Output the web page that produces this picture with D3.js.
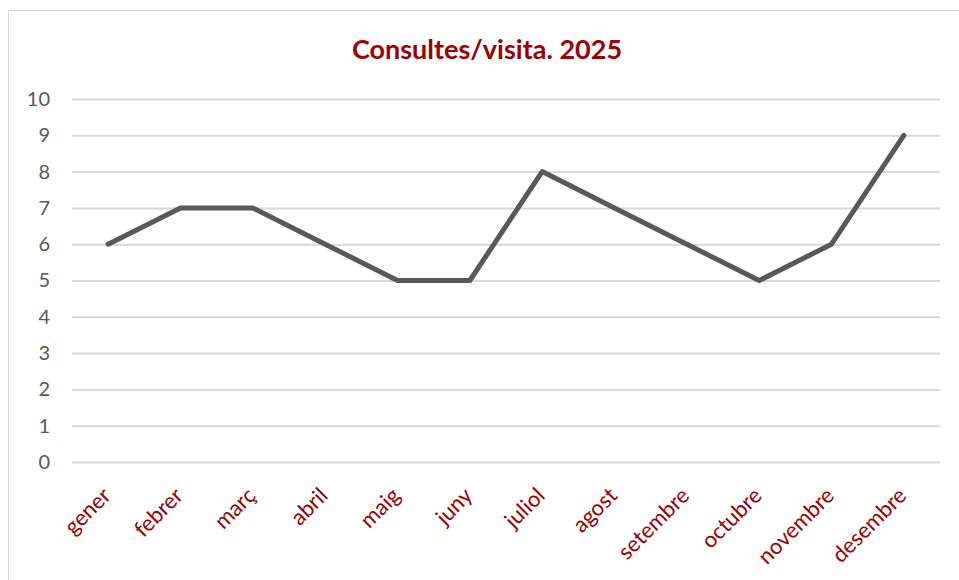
<!DOCTYPE html>
<html><head><meta charset="utf-8">
<script src="https://cdn.jsdelivr.net/npm/d3@7"></script>
<style>body{margin:0;background:#fff}svg{display:block}</style>
</head><body>
<svg id="c" width="959" height="580"></svg>
<script>
const months = ["gener","febrer","març","abril","maig","juny","juliol","agost","setembre","octubre","novembre","desembre"];
const values = [6,7,7,6,5,5,8,7,6,5,6,9];
const yTicks = [0,1,2,3,4,5,6,7,8,9,10];
const title = "Consultes/visita. 2025";

const svg = d3.select("#c");
const font = "Lato, Carlito, 'Open Sans', sans-serif";
svg.append("rect").attr("x",8.5).attr("y",10.5).attr("width",960).attr("height",580)
  .attr("fill","#fff").attr("stroke","#d9d9d9").attr("stroke-width",1);

const L=72, R=940, T=99, B=462;
const x = d3.scaleBand().domain(months).range([L,R]);
const y = d3.scaleLinear().domain([0,10]).range([B,T]);

svg.append("text").attr("x",487).attr("y",59).attr("text-anchor","middle")
  .attr("font-family",font).attr("font-weight","bold").attr("font-size",27)
  .attr("fill","#9c0000").text(title);

const gy = svg.append("g").attr("transform",`translate(${L},0)`)
  .call(d3.axisLeft(y).tickValues(yTicks).tickSize(-(R-L)).tickPadding(22).tickFormat(d3.format("d")));
gy.select(".domain").remove();
gy.selectAll(".tick line").attr("stroke","#d9d9d9").attr("stroke-width",2);
gy.selectAll(".tick text").attr("font-family",font).attr("font-size",20).attr("fill","#595959");

const gx = svg.append("g").attr("transform",`translate(0,${B})`)
  .call(d3.axisBottom(x).tickSize(0).tickPadding(0));
gx.select(".domain").remove();
gx.selectAll(".tick text").attr("font-family",font).attr("font-size",22).attr("fill","#9c0000")
  .attr("text-anchor","end").attr("dy",0).attr("y",0)
  .attr("transform","translate(4,35) rotate(-45)");

const line = d3.line().x((d,i)=>x(months[i])+x.bandwidth()/2).y(d=>y(d));
svg.append("path").datum(values).attr("d",line).attr("fill","none")
  .attr("stroke","#595959").attr("stroke-width",5).attr("stroke-linejoin","round").attr("stroke-linecap","round");
</script>
</body></html>
